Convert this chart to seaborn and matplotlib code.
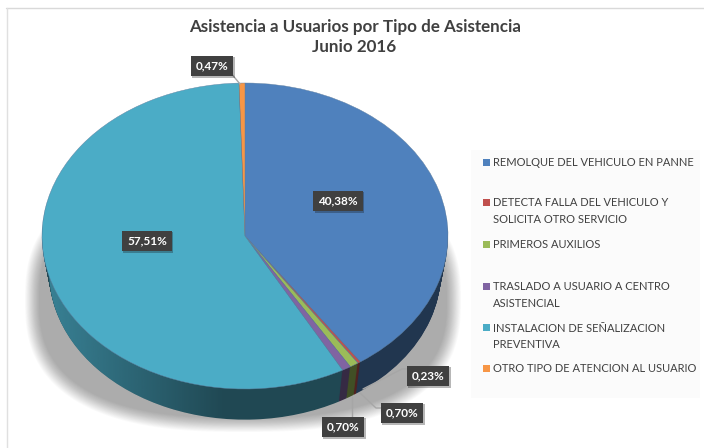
import matplotlib
matplotlib.use("Agg")
import matplotlib.pyplot as plt
import matplotlib.patheffects as pe
from matplotlib.patches import Ellipse, Rectangle, Polygon
import numpy as np
import seaborn as sns

categories = ["REMOLQUE DEL VEHICULO EN PANNE",
              "DETECTA FALLA DEL VEHICULO Y\nSOLICITA OTRO SERVICIO",
              "PRIMEROS AUXILIOS",
              "TRASLADO A USUARIO A CENTRO\nASISTENCIAL",
              "INSTALACION DE SEÑALIZACION\nPREVENTIVA",
              "OTRO TIPO DE ATENCION AL USUARIO"]
values = [40.38, 0.23, 0.70, 0.70, 57.51, 0.47]
top_colors = ["#4F81BD", "#C0504D", "#9BBB59", "#8064A2", "#4BACC6", "#F79646"]
title_lines = ["Asistencia a Usuarios por Tipo de Asistencia", "Junio 2016"]

sns.set_theme(style="white")
plt.rcParams["font.family"] = ["Lato", "DejaVu Sans"]
palette = sns.color_palette(top_colors)
side = [tuple(c * 0.42 for c in col) for col in palette]

fig = plt.figure(figsize=(7.04, 4.48), dpi=100, facecolor="white")

# soft shadow on its own axes (reference pixel coordinates)
sh = fig.add_axes([0, 0, 1, 1], zorder=0)
sh.set_xlim(0, 704)
sh.set_ylim(448, 0)
sh.axis("off")
theta = np.linspace(0, 2 * np.pi, 240)
for i in range(18):
    grow = (17 - i) / 17 * 14
    ex = (204 + grow) * np.sign(np.cos(theta)) * np.abs(np.cos(theta)) ** (2 / 2.6)
    ey = (118 + grow) * np.sign(np.sin(theta)) * np.abs(np.sin(theta)) ** (2 / 2.6)
    sh.add_patch(Polygon(np.column_stack([243 + ex, 300 + ey]), closed=True,
                         facecolor="#000000", alpha=0.02, lw=0))

# pie axes: one data unit = the radius of the elliptical top face
CX, CY, RX, RY, DEPTH, SHRINK = 245, 236, 203, 153, 36, 0.035
ax = fig.add_axes([0, 0, 1, 1], zorder=1)
ax.patch.set_alpha(0)

# extruded side: stacked pies, shrinking toward the back for the perspective
for d in range(DEPTH, 0, -1):
    ax.pie(values, colors=side, startangle=90, counterclock=False,
           radius=1 - SHRINK * d / DEPTH, center=(0, -d / RY), frame=False,
           wedgeprops=dict(linewidth=0, zorder=1 + (DEPTH - d) * 0.01))

# lighter sheen on the left part of the side
grad = np.zeros((1, 256, 4))
grad[..., :3] = palette[4]
grad[..., 3] = np.linspace(0.6, 0, 256)
im = ax.imshow(grad, extent=((38 - CX) / RX, (225 - CX) / RX, -200 / RY, 100 / RY),
               aspect="auto", zorder=2.5)
im.set_clip_path(Ellipse((0, -DEPTH / RY), 2 * (1 - SHRINK), 2 * (1 - SHRINK), transform=ax.transData))

# top face
ax.pie(values, colors=palette, startangle=90, counterclock=False, radius=1,
       center=(0, 0), frame=False,
       wedgeprops=dict(linewidth=0.3, edgecolor="#5f7f9f", zorder=3))
ax.set_aspect("auto")
ax.set_xlim(-CX / RX, (704 - CX) / RX)
ax.set_ylim(-(448 - CY) / RY, CY / RY)

# overlay in reference pixel coordinates
ov = fig.add_axes([0, 0, 1, 1], zorder=5)
ov.set_xlim(0, 704)
ov.set_ylim(448, 0)
ov.axis("off")

# frame
ov.plot([6, 704], [8.5, 8.5], color="#d9d9d9", lw=1)
ov.plot([6.5, 6.5], [8, 448], color="#e0e0e0", lw=1)

# title
ov.text(355, 27, title_lines[0], ha="center", va="center", fontsize=12.25,
        fontweight="bold", color="#404040")
ov.text(354, 47, title_lines[1], ha="center", va="center", fontsize=12.25,
        fontweight="bold", color="#404040")

# legend
ov.add_patch(Rectangle((471, 150), 229, 248, facecolor="#fbfbfb", edgecolor="none"))
marker_y = [163, 203, 245, 287, 328, 369]
for cat, col, y in zip(categories, palette, marker_y):
    ov.add_patch(Rectangle((483, y - 3.5), 7, 7, facecolor=col, edgecolor="none"))
    for j, line in enumerate(cat.split("\n")):
        ov.text(493, y + j * 16.5, line, ha="left", va="center", fontsize=8,
                color="#404040")

# data labels
labels = [f"{v:.2f}".replace(".", ",") + "%" for v in values]
label_pos = [(338, 201), (428, 376), (402, 413), (343, 427), (147, 241), (212, 66)]
leaders = [None,
           [(408, 369), (402, 369), (363, 389)],
           [(383, 408), (376, 408), (360, 393)],
           [(352, 417), (352, 397)],
           None,
           [(230, 72), (240, 84)]]
for txt, (x, y), path in zip(labels, label_pos, leaders):
    if path:
        ov.plot([p[0] for p in path], [p[1] for p in path], color="#a6a6a6", lw=1, zorder=6)
    t = ov.text(x, y, txt, ha="center", va="center", fontsize=8.5, fontweight="bold",
                color="white", zorder=7,
                bbox=dict(boxstyle="square,pad=0.42", facecolor="#404040", edgecolor="none"))
    t.get_bbox_patch().set_path_effects([pe.withSimplePatchShadow(offset=(1, -1), alpha=0.3)])

fig.savefig("out.png", dpi=100)
